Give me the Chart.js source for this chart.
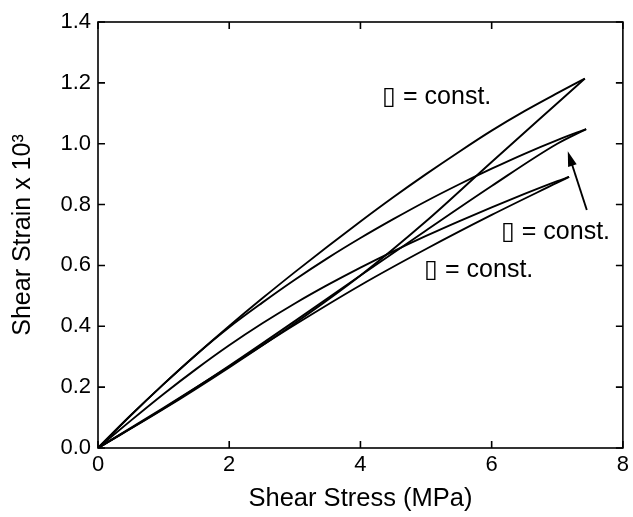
<!DOCTYPE html>
<html>
<head>
<meta charset="utf-8">
<script src="https://cdn.jsdelivr.net/npm/chart.js@4.4.1/dist/chart.umd.min.js"></script>
<style>
  html, body { margin: 0; padding: 0; background: #fff; }
  #wrap { width: 633px; height: 517px; }
</style>
</head>
<body>
<div id="wrap"><canvas id="plot"></canvas></div>
<script>
// hysteresis loops: [stress MPa, strain x 10^3]
// each loop split into its two branches, both listed from origin to tip
const loopAUpper = [[0,0],[0.5,0.1075],[1,0.21],[1.5,0.3075],[2,0.401],[2.5,0.491],[3,0.578],[3.5,0.6625],[4,0.7445],[4.5,0.824],[5,0.90],[5.5,0.973],[6,1.043],[6.5,1.107],[7,1.166],[7.42,1.214]];
const loopALower = [[0,0],[1,0.128],[2,0.265],[3,0.41],[4,0.567],[5,0.745],[6,0.94],[7,1.133],[7.42,1.214]];
const loopBUpper = [[0,0],[0.5,0.1075],[1,0.21],[1.5,0.3075],[2,0.397],[2.5,0.477],[3,0.553],[3.5,0.624],[4,0.69],[4.5,0.752],[5,0.811],[5.5,0.866],[6,0.918],[6.5,0.967],[7,1.012],[7.44,1.048]];
const loopBLower = [[0,0],[1,0.13],[2,0.27],[3,0.417],[4,0.567],[5,0.715],[6,0.861],[7,1.0],[7.44,1.048]];
const loopCUpper = [[0,0],[0.5,0.09],[1,0.1775],[1.5,0.26],[2,0.3375],[2.5,0.409],[3,0.475],[3.5,0.536],[4,0.593],[4.5,0.6465],[5,0.697],[5.5,0.745],[6,0.791],[6.5,0.835],[7,0.877],[7.18,0.891]];
const loopCLower = [[0,0],[1,0.132],[2,0.268],[3,0.405],[4,0.535],[5,0.654],[6,0.766],[7,0.872],[7.18,0.891]];

const xTicks = [0, 2, 4, 6, 8];
const yTicks = [0, 0.2, 0.4, 0.6, 0.8, 1.0, 1.2, 1.4];

// annotations (data coords)
const labelText = "\u25AF = const.";
const labelPos = [[4.33, 1.153], [6.14, 0.71], [4.97, 0.585]];
const arrowFrom = [7.45, 0.782];
const arrowTo = [7.16, 0.975];

const FONT = "'Liberation Sans', Arial, Helvetica, sans-serif";

function toPts(arr) {
    return arr.map(p => ({x: p[0], y: p[1]}));
}

function branch(arr) {
    return {
        data: toPts(arr),
        showLine: true,
        borderColor: '#000',
        borderWidth: 1.9,
        pointRadius: 0,
        cubicInterpolationMode: 'monotone',
        fill: false
    };
}

// frame, inward ticks, labels and arrow
const decorations = {
    id: 'decorations',
    afterDraw(chart) {
        const ctx = chart.ctx;
        const area = chart.chartArea;
        const xs = chart.scales.x;
        const ys = chart.scales.y;
        const tl = 7;
        ctx.save();
        ctx.strokeStyle = '#000';
        ctx.lineWidth = 1.6;
        ctx.strokeRect(area.left, area.top, area.right - area.left, area.bottom - area.top);
        ctx.beginPath();
        xTicks.forEach(v => {
            const px = xs.getPixelForValue(v);
            ctx.moveTo(px, area.bottom); ctx.lineTo(px, area.bottom - tl);
            ctx.moveTo(px, area.top); ctx.lineTo(px, area.top + tl);
        });
        yTicks.forEach(v => {
            const py = ys.getPixelForValue(v);
            ctx.moveTo(area.left, py); ctx.lineTo(area.left + tl, py);
            ctx.moveTo(area.right, py); ctx.lineTo(area.right - tl, py);
        });
        ctx.stroke();

        ctx.fillStyle = '#000';
        ctx.font = "25px " + FONT;
        ctx.textAlign = 'left';
        ctx.textBaseline = 'middle';
        labelPos.forEach(p => {
            ctx.fillText(labelText, xs.getPixelForValue(p[0]), ys.getPixelForValue(p[1]));
        });

        // arrow
        const x0 = xs.getPixelForValue(arrowFrom[0]), y0 = ys.getPixelForValue(arrowFrom[1]);
        const x1 = xs.getPixelForValue(arrowTo[0]), y1 = ys.getPixelForValue(arrowTo[1]);
        const ang = Math.atan2(y1 - y0, x1 - x0);
        const hl = 15, hw = 4.5;
        ctx.lineWidth = 1.9;
        ctx.beginPath();
        ctx.moveTo(x0, y0);
        ctx.lineTo(x1 - Math.cos(ang) * hl * 0.8, y1 - Math.sin(ang) * hl * 0.8);
        ctx.stroke();
        ctx.beginPath();
        ctx.moveTo(x1, y1);
        ctx.lineTo(x1 - Math.cos(ang) * hl + Math.sin(ang) * hw, y1 - Math.sin(ang) * hl - Math.cos(ang) * hw);
        ctx.lineTo(x1 - Math.cos(ang) * hl - Math.sin(ang) * hw, y1 - Math.sin(ang) * hl + Math.cos(ang) * hw);
        ctx.closePath();
        ctx.fill();
        ctx.restore();
    }
};

new Chart(document.getElementById('plot'), {
    type: 'scatter',
    data: {
        datasets: [
            branch(loopAUpper), branch(loopALower),
            branch(loopBUpper), branch(loopBLower),
            branch(loopCUpper), branch(loopCLower)
        ]
    },
    options: {
        responsive: true,
        maintainAspectRatio: false,
        animation: false,
        layout: { padding: { top: 22, right: 9, left: 0, bottom: 0 } },
        plugins: {
            legend: { display: false },
            tooltip: { enabled: false }
        },
        scales: {
            x: {
                type: 'linear',
                min: 0,
                max: 8,
                afterFit(scale) { scale.height = 69; },
                afterBuildTicks(scale) { scale.ticks = xTicks.map(v => ({value: v})); },
                grid: { display: false, drawTicks: false },
                border: { display: false },
                ticks: {
                    padding: 4,
                    color: '#000',
                    font: { family: FONT, size: 22 },
                    callback: v => String(v)
                },
                title: {
                    display: true,
                    text: 'Shear Stress (MPa)',
                    color: '#000',
                    font: { family: FONT, size: 25.5 },
                    padding: { top: 0, bottom: 3 }
                }
            },
            y: {
                type: 'linear',
                min: 0,
                max: 1.4,
                afterFit(scale) { scale.width = 98; },
                afterBuildTicks(scale) { scale.ticks = yTicks.map(v => ({value: v})); },
                grid: { display: false, drawTicks: false },
                border: { display: false },
                ticks: {
                    padding: 7,
                    color: '#000',
                    font: { family: FONT, size: 22 },
                    callback: v => Number(v).toFixed(1)
                },
                title: {
                    display: true,
                    text: 'Shear Strain x 10\u00B3',
                    color: '#000',
                    font: { family: FONT, size: 25 },
                    padding: { top: 8, bottom: 0 }
                }
            }
        }
    },
    plugins: [decorations]
});
</script>
</body>
</html>
